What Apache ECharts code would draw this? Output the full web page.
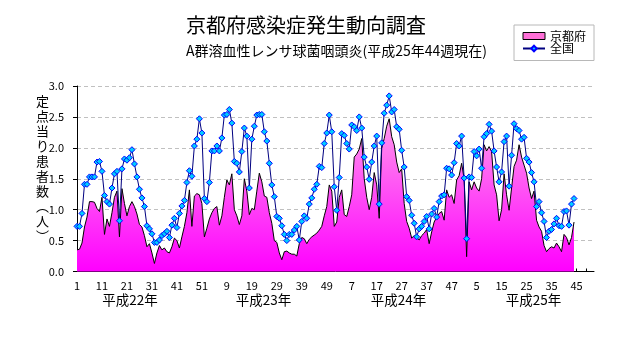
<!DOCTYPE html>
<html>
<head>
<meta charset="utf-8">
<script src="https://cdn.jsdelivr.net/npm/echarts/dist/echarts.min.js"></script>
<style>
html, body { margin: 0; padding: 0; background: #ffffff; }
#chart { width: 632px; height: 348px; }
</style>
</head>
<body>
<div id="chart"></div>
<script>
// Reporting years (Heisei era) and the number of surveillance weeks in each
const yearNames = ['平成22年', '平成23年', '平成24年', '平成25年'];
const weeksPerYear = [52, 52, 52, 52];

// Per-sentinel cases, Kyoto Prefecture (weeks 2010-01 .. 2013-44)
const kyotoRate = [
  0.35, 0.36, 0.46, 0.72, 0.88, 1.13, 1.13, 1.12, 1.02, 0.97,
  1.20, 0.60, 0.85, 0.73, 0.95, 1.20, 1.30, 0.56, 1.34, 1.10,
  0.90, 1.05, 1.13, 1.05, 0.93, 0.76, 0.72, 0.58, 0.40, 0.45,
  0.30, 0.13, 0.30, 0.42, 0.35, 0.38, 0.32, 0.30, 0.40, 0.54,
  0.50, 0.38, 0.56, 0.73, 0.95, 1.32, 0.73, 1.22, 1.26, 1.24,
  1.10, 0.56, 0.70, 0.85, 0.95, 1.02, 1.05, 0.75, 0.90, 1.20,
  1.48, 1.40, 1.58, 1.00, 0.90, 0.76, 0.90, 1.50, 1.30, 0.92,
  1.02, 1.00, 1.30, 1.59, 1.45, 1.22, 1.20, 0.95, 0.78, 0.50,
  0.47, 0.30, 0.19, 0.32, 0.33, 0.30, 0.28, 0.28, 0.25, 0.45,
  0.55, 0.53, 0.45, 0.52, 0.56, 0.59, 0.62, 0.67, 0.73, 0.90,
  1.05, 1.40, 1.30, 0.73, 0.80, 1.20, 1.32, 0.92, 0.89, 1.05,
  1.24, 1.85, 1.90, 1.98, 2.15, 1.50, 1.20, 1.00, 1.20, 1.60,
  1.40, 0.86, 1.99, 2.15, 2.35, 2.47, 2.18, 2.05, 1.77, 1.60,
  1.66, 1.10, 0.81, 0.70, 0.54, 0.58, 0.55, 0.51, 0.58, 0.62,
  0.68, 0.45, 0.64, 0.80, 0.88, 0.94, 0.97, 0.83, 1.32, 1.20,
  1.24, 1.10, 1.48, 1.55, 1.75, 1.50, 0.24, 1.45, 1.32, 1.45,
  1.35, 1.30, 1.50, 2.05, 1.95, 2.02, 1.94, 1.40, 1.24, 0.82,
  1.00, 1.58, 1.24, 0.99, 1.35, 1.70, 1.80, 2.05, 1.85, 1.72,
  1.59, 1.35, 1.18, 1.30, 0.83, 0.72, 0.65, 0.42, 0.32, 0.37,
  0.40, 0.38, 0.46, 0.40, 0.32, 0.60, 0.55, 0.43, 0.55, 0.80
];

// Per-sentinel cases, nationwide (weeks 2010-01 .. 2013-44)
const nationalRate = [
  0.73, 0.73, 0.94, 1.41, 1.41, 1.53, 1.53, 1.53, 1.77, 1.78,
  1.62, 1.23, 1.13, 1.09, 1.35, 1.58, 1.62, 0.82, 1.66, 1.82,
  1.80, 1.84, 1.97, 1.74, 1.53, 1.33, 1.19, 1.05, 0.74, 0.69,
  0.61, 0.47, 0.47, 0.51, 0.58, 0.61, 0.65, 0.55, 0.75, 0.86,
  0.71, 0.94, 1.06, 1.15, 1.44, 1.63, 1.54, 2.03, 2.14, 2.47,
  2.24, 1.18, 1.13, 1.44, 1.95, 1.95, 2.03, 1.95, 2.16, 2.53,
  2.54, 2.62, 2.40, 1.78, 1.75, 1.61, 1.94, 2.32, 2.19, 1.35,
  2.14, 2.35, 2.53, 2.54, 2.54, 2.26, 2.11, 1.75, 1.40, 1.21,
  0.89, 0.86, 0.74, 0.60, 0.50, 0.60, 0.60, 0.67, 0.73, 0.51,
  0.81, 0.90, 0.86, 1.09, 1.19, 1.33, 1.41, 1.70, 1.68, 2.07,
  2.24, 2.53, 2.26, 1.37, 0.99, 1.52, 2.23, 2.20, 2.07, 1.98,
  2.37, 2.34, 2.28, 2.50, 2.32, 1.85, 1.69, 1.49, 1.77, 2.03,
  2.19, 1.09, 2.08, 2.56, 2.69, 2.84, 2.58, 2.62, 2.34, 2.30,
  1.96, 1.69, 1.21, 1.15, 0.91, 0.78, 0.56, 0.69, 0.73, 0.81,
  0.89, 0.69, 0.93, 1.02, 0.88, 1.13, 1.22, 1.24, 1.67, 1.66,
  1.56, 1.76, 2.07, 2.03, 2.19, 1.51, 0.53, 1.53, 1.52, 1.94,
  1.87, 1.98, 1.67, 2.18, 2.23, 2.38, 2.27, 1.95, 1.69, 1.45,
  1.61, 2.10, 2.19, 1.38, 1.88, 2.39, 2.31, 2.28, 2.14, 2.17,
  1.83, 1.77, 1.60, 1.45, 1.05, 1.13, 0.95, 0.81, 0.55, 0.65,
  0.68, 0.77, 0.86, 0.74, 0.73, 0.97, 0.98, 0.75, 1.09, 1.18
];

// One category per surveillance week, labelled with its week number
const weekCategories = [];
weeksPerYear.forEach(function (n, y) {
  for (let w = 1; w <= n; w++) weekCategories.push(y + '-' + w);
});

const FONT = '"Noto Sans CJK JP", "Noto Sans CJK SC", sans-serif';
const PLOT_TOP = 86, PLOT_BOTTOM = 271.5;
// Horizontal centres of the era-year captions under the week axis
const yearCaptionX = [130, 263.5, 398.5, 533.5];

const chart = echarts.init(document.getElementById('chart'), null, { renderer: 'canvas' });

const kyotoFill = new echarts.graphic.LinearGradient(0, PLOT_TOP, 0, PLOT_BOTTOM, [
  { offset: 0, color: '#ffb8e8' },
  { offset: 1, color: '#ff00ff' }
], true);

chart.setOption({
  animation: false,
  backgroundColor: '#ffffff',
  title: {
    text: '京都府感染症発生動向調査',
    subtext: 'A群溶血性レンサ球菌咽頭炎(平成25年44週現在)',
    left: 186,
    top: 15.5,
    padding: 0,
    itemGap: 8,
    textStyle: { fontFamily: FONT, fontSize: 20, fontWeight: 'normal', color: '#000', lineHeight: 20 },
    subtextStyle: { fontFamily: FONT, fontSize: 14, color: '#000', lineHeight: 14 }
  },
  legend: {
    orient: 'vertical',
    left: 514,
    top: 25,
    padding: [5, 8, 6, 8],
    itemWidth: 22,
    itemHeight: 7,
    itemGap: 0.5,
    itemTextGap: 3,
    borderColor: '#b8b8b8',
    borderWidth: 1,
    textStyle: { fontFamily: FONT, fontSize: 12, color: '#000', lineHeight: 12 },
    data: [
      { name: '京都府', icon: 'rect', itemStyle: { color: '#ff70d8', borderColor: '#000', borderWidth: 1 } },
      { name: '全国' }
    ]
  },
  grid: { left: 77, right: 38, top: PLOT_TOP, bottom: 348 - PLOT_BOTTOM },
  xAxis: {
    type: 'category',
    data: weekCategories,
    boundaryGap: false,
    axisLine: { lineStyle: { color: '#000', width: 1 } },
    axisTick: { show: true, inside: true, length: 3, interval: 3, lineStyle: { color: '#000' } },
    axisLabel: {
      interval: 9,
      margin: 9,
      color: '#000',
      fontFamily: FONT,
      fontSize: 11,
      formatter: function (v) { return v.split('-')[1]; }
    },
    splitLine: { show: false }
  },
  yAxis: {
    type: 'value',
    min: 0,
    max: 3,
    interval: 0.5,
    axisLine: { show: true, lineStyle: { color: '#000', width: 1 } },
    axisTick: { show: true, length: 4, lineStyle: { color: '#000' } },
    axisLabel: {
      margin: 13,
      color: '#000',
      fontFamily: FONT,
      fontSize: 11,
      formatter: function (v) { return v.toFixed(1); }
    },
    splitLine: { show: true, lineStyle: { color: '#c0c0c0', type: [4, 3], width: 1 } }
  },
  series: [
    {
      name: '京都府',
      type: 'line',
      data: kyotoRate,
      symbol: 'none',
      lineStyle: { color: '#000', width: 1 },
      itemStyle: { color: '#ff70d8', borderColor: '#000' },
      areaStyle: { color: kyotoFill, opacity: 1 },
      z: 2
    },
    {
      name: '全国',
      type: 'line',
      data: nationalRate,
      symbol: 'diamond',
      symbolSize: 6,
      showAllSymbol: true,
      lineStyle: { color: '#000080', width: 1 },
      itemStyle: { color: '#00ccff', borderColor: '#0000ff', borderWidth: 1 },
      z: 3
    }
  ],
  graphic: [
    {
      type: 'text',
      x: 42.5,
      y: 169,
      style: {
        text: ['定', '点', '当', 'り', '患', '者', '数', '︵', '人', '︶'].join('\n'),
        font: '13px ' + FONT,
        lineHeight: 15,
        fill: '#000',
        align: 'center',
        verticalAlign: 'middle'
      }
    }
  ].concat(yearNames.map(function (name, i) {
    return {
      type: 'text',
      x: yearCaptionX[i],
      y: 300,
      style: {
        text: name,
        font: '13.5px ' + FONT,
        fill: '#000',
        align: 'center',
        verticalAlign: 'middle'
      }
    };
  }))
});
</script>
</body>
</html>
